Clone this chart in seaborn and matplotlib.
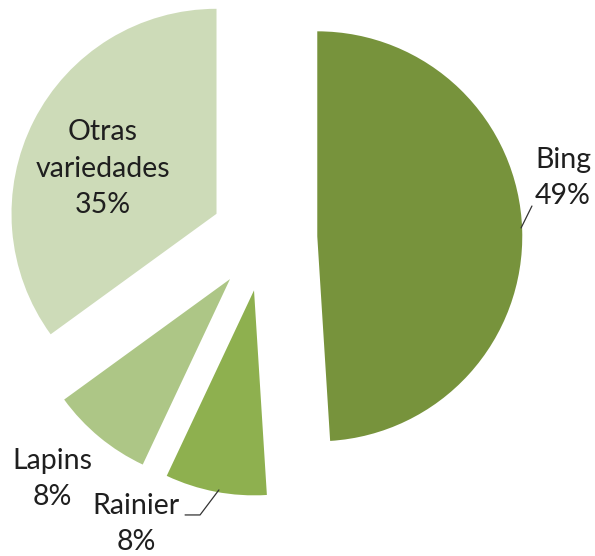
import matplotlib
matplotlib.use("Agg")
import matplotlib.pyplot as plt
import seaborn as sns

# Data
variedades = ['Bing', 'Rainier', 'Lapins', 'Otras\nvariedades']
porcentajes = [49, 8, 8, 35]
colores = ['#77933C', '#8EB04F', '#ADC686', '#CDDBB8']

sns.set_theme(style='white')
plt.rcParams['font.family'] = ['Lato', 'DejaVu Sans']

fig = plt.figure(figsize=(5.95, 5.56), dpi=100)
ax = fig.add_axes([0, 0, 1, 1])

wedges, _ = ax.pie(porcentajes, colors=colores, startangle=90, counterclock=False,
                   explode=[0.26] * 4, radius=1.0,
                   wedgeprops=dict(linewidth=0))

# 205 px per unit, pie centre at pixel (264, 238)
ax.set_xlim(-264 / 205, (595 - 264) / 205)
ax.set_ylim(-(556 - 238) / 205, 238 / 205)
ax.axis('off')

txt = dict(fontsize=20.5, color='#1f1f1f', ha='center', va='center', linespacing=1.5)

labels = [f'{v}\n{p}%' for v, p in zip(variedades, porcentajes)]
ax.text(1.459, 0.293, labels[0], **txt)
ax.text(-0.624, -1.395, labels[1], **txt)
ax.text(-1.034, -1.176, labels[2], **txt)
ax.text(-0.785, 0.337, labels[3], **txt)

# leader lines
ax.plot([1.254, 1.307], [0.049, 0.156], color='#333333', lw=0.9)
ax.plot([-0.220, -0.312, -0.385], [-1.229, -1.351, -1.351], color='#333333', lw=0.9)

fig.savefig('out.png', dpi=100)
